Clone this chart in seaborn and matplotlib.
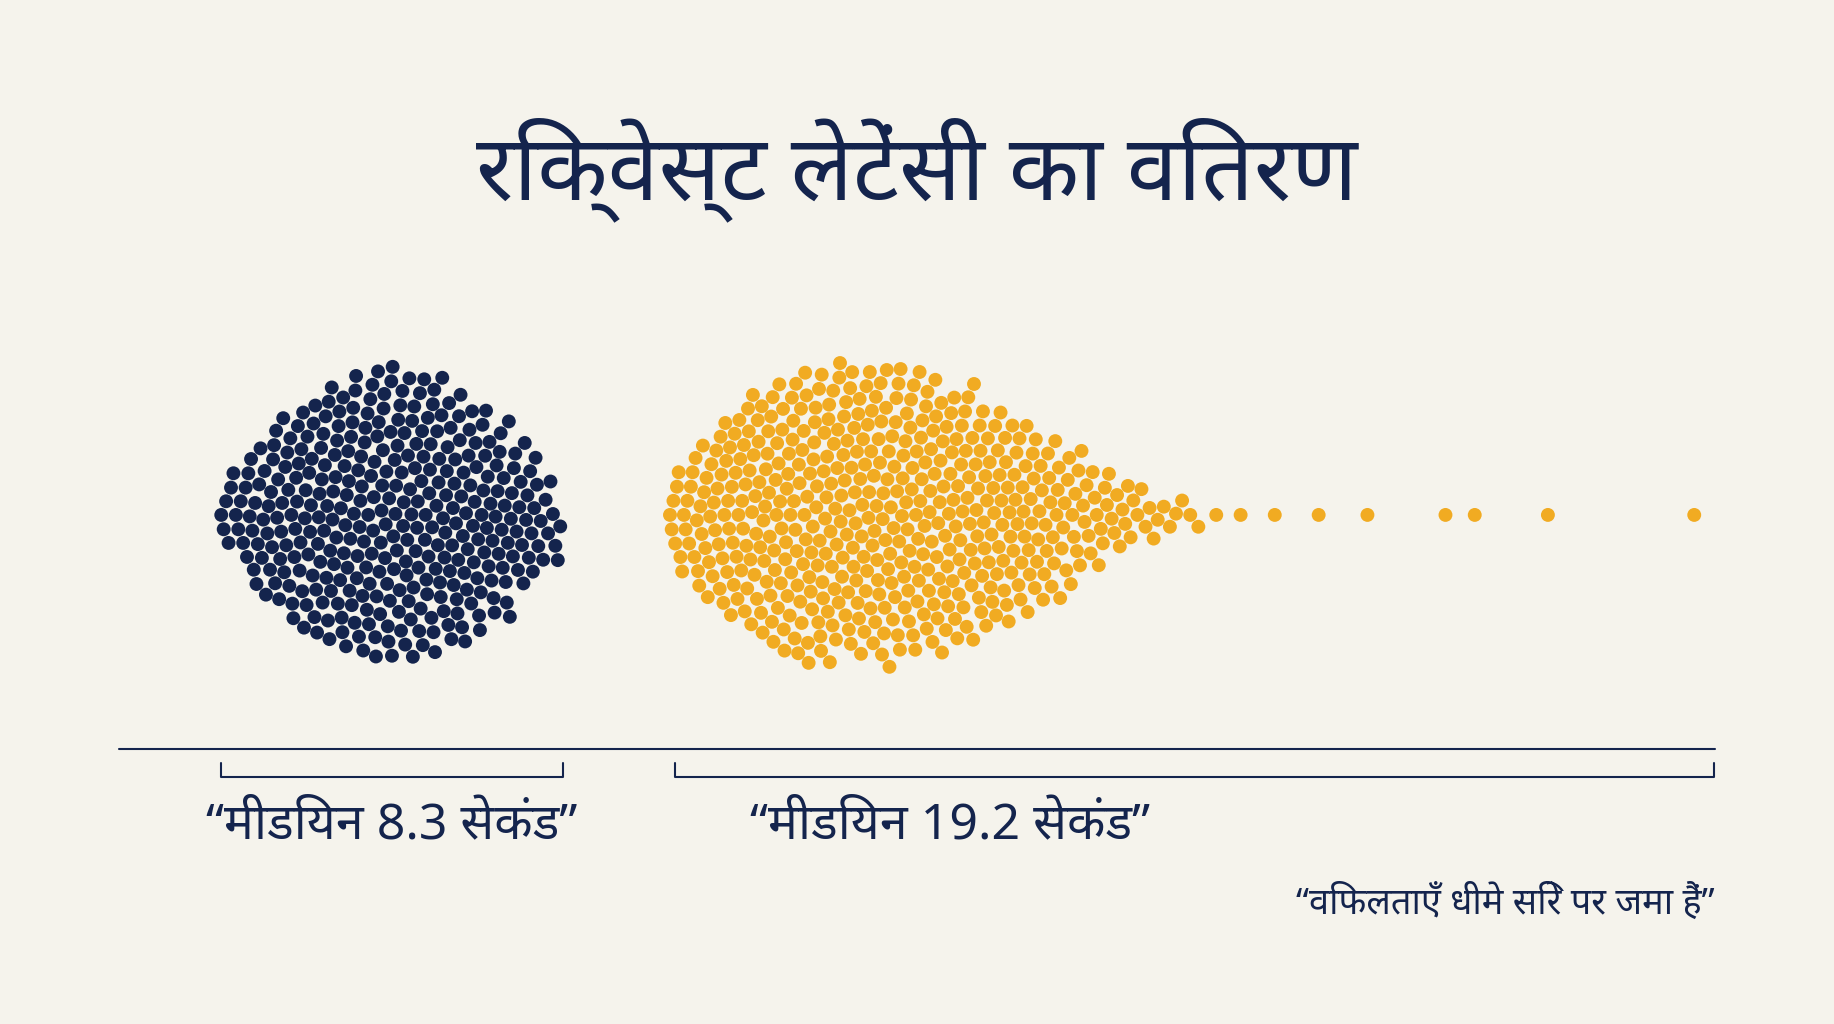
import numpy as np
import pandas as pd
import matplotlib.pyplot as plt
import seaborn as sns

# latency histogram (seconds, 0.5 s bins)
fast_start = 4.8
fast_counts = [10, 18, 24, 28, 32, 34, 35, 35, 34, 32, 28, 24, 18, 10]
slow_start = 14.0
slow_counts = [14, 20, 26, 30, 33, 35, 36, 36, 36, 35, 34, 32, 30, 27, 24, 20, 16, 12, 9, 6, 4, 3]
slow_tail = [25.2, 25.7, 26.4, 27.3, 28.3, 29.9, 30.5, 32.0, 35.0]
bin_w = 0.5

title = "रिक्वेस्ट लेटेंसी का वितरण"
label_fast = "“मीडियन 8.3 सेकंड”"
label_slow = "“मीडियन 19.2 सेकंड”"
note = "“विफलताएँ धीमे सिरे पर जमा हैं”"

navy = "#14244d"
gold = "#f1ab22"
bg = "#f5f3ec"


def expand(start, counts):
    vals = []
    for i, n in enumerate(counts):
        lo = start + i * bin_w
        vals.extend(np.linspace(lo, lo + bin_w, n, endpoint=False))
    return vals


fast = expand(fast_start, fast_counts)
slow = expand(slow_start, slow_counts) + slow_tail
df = pd.DataFrame({
    "latency": fast + slow,
    "group": ["fast"] * len(fast) + ["slow"] * len(slow),
    "row": ["all"] * (len(fast) + len(slow)),
})

sns.set_style("white")
plt.rcParams["font.family"] = ["Noto Sans", "DejaVu Sans"]

fig = plt.figure(figsize=(18.34, 10.24), dpi=100, facecolor=bg)
ax = fig.add_axes([0, 0, 1, 1])
ax.set_facecolor(bg)

sns.swarmplot(data=df, x="latency", y="row", hue="group", palette={"fast": navy, "slow": gold},
              size=10, orient="h", legend=False, ax=ax, warn_thresh=1.0)

# px (1568-wide picture) -> seconds: px = -11 + 41.7 * s
ax.set_xlim(11 / 41.7, (1568 + 11) / 41.7)
ax.set_ylim(435 / 412.5, -440 / 412.5)
ax.axis("off")

# baseline and brackets
ax.plot([(102 + 11) / 41.7, (1466 + 11) / 41.7], [0.485, 0.485], color=navy, lw=1.5)
for a, b in [(4.8, 11.8), (14.1, 35.4)]:
    ax.plot([a, a, b, b], [0.514, 0.543, 0.543, 0.514], color=navy, lw=1.5)

fig.text(0.5, 1 - 145 / 875, title, ha="center", va="center", fontsize=66,
         fontweight="bold", color=navy)
fig.text(335 / 1568, 1 - 705 / 875, label_fast, ha="center", va="center", fontsize=36, color=navy)
fig.text(812 / 1568, 1 - 705 / 875, label_slow, ha="center", va="center", fontsize=36, color=navy)
fig.text(1466 / 1568, 1 - 772 / 875, note, ha="right", va="center", fontsize=26, color=navy)

fig.savefig("out.png", dpi=100, facecolor=bg)
